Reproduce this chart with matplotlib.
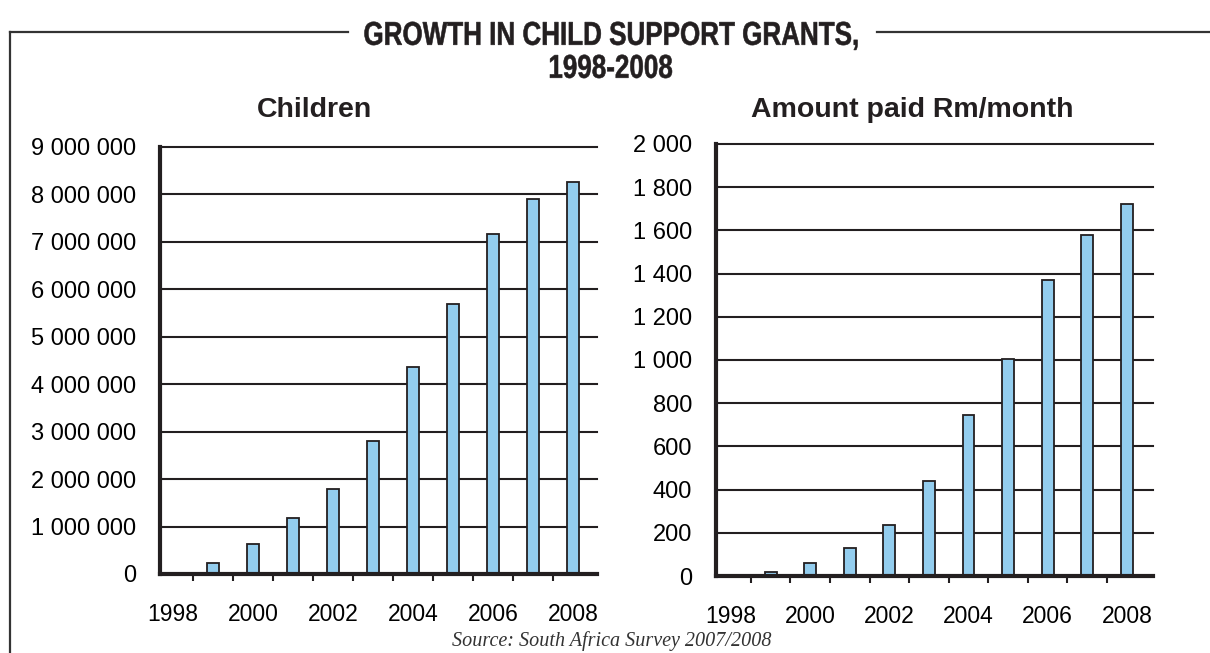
import matplotlib
matplotlib.use('Agg')
import matplotlib.pyplot as plt
from matplotlib.font_manager import FontProperties
from matplotlib.lines import Line2D
from matplotlib.patches import PathPatch
from matplotlib.textpath import TextPath
from matplotlib.transforms import Affine2D, IdentityTransform
from matplotlib.ticker import FuncFormatter, FixedLocator
import numpy as np

years = [1998, 1999, 2000, 2001, 2002, 2003, 2004, 2005, 2006, 2007, 2008]
children = [20000, 240000, 640000, 1170000, 1800000, 2810000, 4370000,
            5700000, 7170000, 7900000, 8260000]
amount_rm = [2, 20, 60, 128, 236, 440, 745, 1006, 1370, 1579, 1722]

title_lines = ['GROWTH IN CHILD SUPPORT GRANTS,', '1998-2008']
panel_titles = ['Children', 'Amount paid Rm/month']
source = 'Source: South Africa Survey 2007/2008'

bar_color = '#93cdee'
ink = '#231f20'

W, H = 1210, 653
plt.rcParams['font.family'] = ['Liberation Sans', 'DejaVu Sans']

fig = plt.figure(figsize=(W / 100, H / 100), dpi=100)


def spaced(v, pos):
    return f'{int(round(v)):,}'.replace(',', ' ')


def panel(rect, values, top, step, xlim):
    ax = fig.add_axes(rect)
    x = np.arange(len(years))
    ax.bar(x, values, width=0.3, color=bar_color, edgecolor=ink,
           linewidth=1.3, zorder=3)
    ax.set_xlim(*xlim)
    ax.set_ylim(0, top)
    ax.yaxis.set_major_locator(FixedLocator(np.arange(0, top + step, step)))
    ax.yaxis.set_major_formatter(FuncFormatter(spaced))
    ax.grid(axis='y', color=ink, linewidth=1.5, zorder=1)
    for gl in ax.get_ygridlines():
        gl.set_clip_on(False)
    ax.set_axisbelow(True)

    ax.set_xticks(x[::2])
    ax.set_xticklabels([str(y) for y in years[::2]])
    ax.set_xticks(x[:-1] + 0.5, minor=True)
    ax.tick_params(axis='x', which='major', length=0, pad=21, labelsize=16.5)
    ax.tick_params(axis='x', which='minor', length=5, width=1.5, color=ink,
                   direction='out')
    ax.tick_params(axis='y', length=0, pad=17, labelsize=17)

    for s in ['top', 'right']:
        ax.spines[s].set_visible(False)
    for s in ['left', 'bottom']:
        ax.spines[s].set_linewidth(3)
        ax.spines[s].set_color(ink)
        ax.spines[s].set_zorder(4)
    return ax


panel([0.1322, 0.1210, 0.3612, 0.6539], children, 9000000, 1000000,
      (-0.325, 10.6))
panel([0.5917, 0.1179, 0.3612, 0.6616], amount_rm, 2000, 200,
      (-0.38, 10.66))

fig.text(315 / W, 1 - 110 / H, panel_titles[0], ha='center', va='center',
         fontsize=20.5, fontweight='bold', color=ink)
fig.text(912 / W, 1 - 110 / H, panel_titles[1], ha='center', va='center',
         fontsize=20.5, fontweight='bold', color=ink)

# banner title: bold sans squeezed horizontally, drawn in pixel coordinates
title_prop = FontProperties(family='Liberation Sans', weight='bold')
em = 33
paths = [TextPath((0, 0), s, size=em, prop=title_prop) for s in title_lines]
squeeze = 493 / paths[0].get_extents().width
for tp, cy in zip(paths, [33, 66]):
    ext = tp.get_extents()
    tr = (Affine2D().translate(-ext.x0 - ext.width / 2, -em * 0.716 / 2)
          .scale(squeeze, 1).translate(611, H - cy))
    fig.add_artist(PathPatch(tp, transform=tr + IdentityTransform(),
                             facecolor=ink, edgecolor=ink, lw=0.4))

frame_y = 1 - 32 / H
fig.add_artist(Line2D([10 / W, 348 / W], [frame_y, frame_y],
                      color='#333333', linewidth=1.6))
fig.add_artist(Line2D([877 / W, 1.0], [frame_y, frame_y],
                      color='#333333', linewidth=1.6))
fig.add_artist(Line2D([10 / W, 10 / W], [0.0, frame_y],
                      color='#333333', linewidth=1.6))

fig.text(612 / W, 1 - 641 / H, source, ha='center', va='center',
         family='Liberation Serif', style='italic', fontsize=14.5,
         color='#333333')

fig.savefig('out.png', dpi=100, facecolor='white')
